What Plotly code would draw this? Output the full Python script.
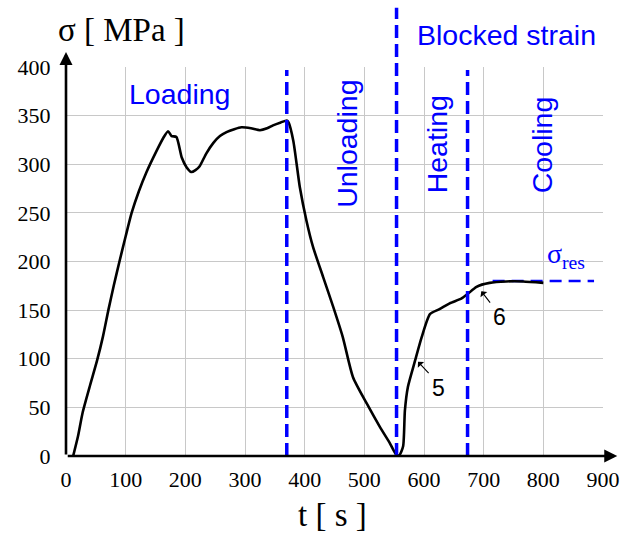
import plotly.graph_objects as go

# Stress history of the specimen: loading, unloading, then heating and cooling with blocked strain
t_s = [12, 20, 28, 40, 52, 62, 71, 80, 90, 100, 110, 122, 135, 152, 163, 171, 177, 185,
       194, 202, 210, 217, 224, 235, 247, 258, 269, 282, 294, 310, 325, 337, 347, 360,
       370, 373, 381, 392, 403, 414, 431, 448, 464, 481, 504, 526, 542, 554, 559, 565,
       568, 573, 585, 596, 610, 626, 643, 663, 674, 688, 710, 738, 766, 800]
sigma_mpa = [0, 20, 45, 72, 98, 123, 150, 175, 201, 226, 250, 272, 292, 314, 327, 334, 329, 328,
             307, 297, 292, 294, 298, 311, 322, 329, 333, 336, 338, 337, 335, 337, 340, 343,
             345, 343, 324, 276, 242, 215, 184, 153, 122, 81, 54, 30, 14, 1, 1, 10,
             47, 71, 98, 122, 146, 151, 157, 162, 167, 174, 178, 179.5, 179.5, 178]

# Phase boundaries [s] and residual stress level [MPa]
phase_bounds = [370, 554, 673]
bound_tops = [0.992, 1.152, 0.992]
sigma_res = 180
res_span = [715, 885]

x_ticks = [0, 100, 200, 300, 400, 500, 600, 700, 800, 900]
y_ticks = [0, 50, 100, 150, 200, 250, 300, 350, 400]

BLUE = "#0000ff"
SANS = "Liberation Sans"
SERIF = "Liberation Serif"
LABEL_SIZE = 28.5

fig = go.Figure()
fig.add_trace(go.Scatter(x=t_s, y=sigma_mpa, mode="lines",
                         line=dict(color="black", width=2.6, shape="spline", smoothing=0.6),
                         hoverinfo="skip"))

shapes = []
for xb, top in zip(phase_bounds, bound_tops):
    shapes.append(dict(type="line", xref="x", yref="paper", x0=xb, x1=xb, y0=0, y1=top,
                       line=dict(color=BLUE, width=3.5, dash="13px,6px")))
shapes.append(dict(type="line", xref="x", yref="y", x0=res_span[0], x1=res_span[1],
                   y0=sigma_res, y1=sigma_res, layer="between",
                   line=dict(color=BLUE, width=2.5, dash="12px,7px")))

annotations = [
    # axis arrows
    dict(xref="paper", yref="paper", x=0, y=1.0386, ax=0, ay=404, axref="pixel", ayref="pixel",
         text="", showarrow=True, arrowhead=2, arrowsize=1, arrowwidth=2.6, arrowcolor="black",
         standoff=0),
    dict(xref="paper", yref="paper", x=1.0265, y=0, ax=-551, ay=0, axref="pixel", ayref="pixel",
         text="", showarrow=True, arrowhead=2, arrowsize=1, arrowwidth=2.6, arrowcolor="black",
         standoff=0),
    # axis titles
    dict(xref="paper", yref="paper", x=0.104, y=1.095, text="σ [ MPa ]", showarrow=False,
         xanchor="center", yanchor="middle", font=dict(family=SERIF, size=33, color="black")),
    dict(xref="paper", yref="paper", x=0.497, y=-0.152, text="t [ s ]", showarrow=False,
         xanchor="center", yanchor="middle", font=dict(family=SERIF, size=33, color="black")),
    # phase labels
    dict(x=191, y=372, text="Loading", showarrow=False,
         font=dict(family=SANS, size=LABEL_SIZE, color=BLUE)),
    dict(x=471, y=321, text="Unloading", showarrow=False, textangle=-90,
         font=dict(family=SANS, size=LABEL_SIZE, color=BLUE)),
    dict(x=621, y=320, text="Heating", showarrow=False, textangle=-90,
         font=dict(family=SANS, size=LABEL_SIZE, color=BLUE)),
    dict(x=797, y=320, text="Cooling", showarrow=False, textangle=-90,
         font=dict(family=SANS, size=LABEL_SIZE, color=BLUE)),
    dict(xref="x", yref="paper", x=739, y=1.083, text="Blocked strain", showarrow=False,
         xanchor="center", yanchor="middle",
         font=dict(family=SANS, size=LABEL_SIZE, color=BLUE)),
    dict(x=803, y=206, text="σ<sub>res</sub>", showarrow=False, xanchor="left",
         font=dict(family=SERIF, size=28, color=BLUE)),
    # point markers 5 and 6
    dict(x=590, y=97, ax=12, ay=13, axref="pixel", ayref="pixel", text="", showarrow=True,
         arrowhead=1, arrowsize=1.3, arrowwidth=1.1, arrowcolor="black", standoff=0),
    dict(x=625, y=70, text="5", showarrow=False, font=dict(family=SANS, size=23, color="black")),
    dict(x=696, y=169.5, ax=10, ay=13, axref="pixel", ayref="pixel", text="", showarrow=True,
         arrowhead=1, arrowsize=1.3, arrowwidth=1.1, arrowcolor="black", standoff=0),
    dict(x=727, y=143, text="6", showarrow=False, font=dict(family=SANS, size=23, color="black")),
]

fig.update_layout(
    width=620, height=537,
    margin=dict(l=66, r=17, t=67, b=81),
    paper_bgcolor="white", plot_bgcolor="white",
    showlegend=False,
    shapes=shapes,
    annotations=annotations,
    xaxis=dict(range=[0, 900], tickvals=x_ticks, ticktext=[str(v) for v in x_ticks],
               showgrid=True, gridcolor="#c8c8c8", gridwidth=1, zeroline=False, showline=False,
               ticks="outside", ticklen=4, tickcolor="rgba(0,0,0,0)", automargin=False,
               tickfont=dict(family=SERIF, size=22, color="black")),
    yaxis=dict(range=[0, 400], tickvals=y_ticks, ticktext=[str(v) for v in y_ticks],
               showgrid=True, gridcolor="#c8c8c8", gridwidth=1, zeroline=False, showline=False,
               ticks="outside", ticklen=10, tickcolor="rgba(0,0,0,0)", automargin=False,
               tickfont=dict(family=SERIF, size=22, color="black")),
)

fig.write_html("out.html")
